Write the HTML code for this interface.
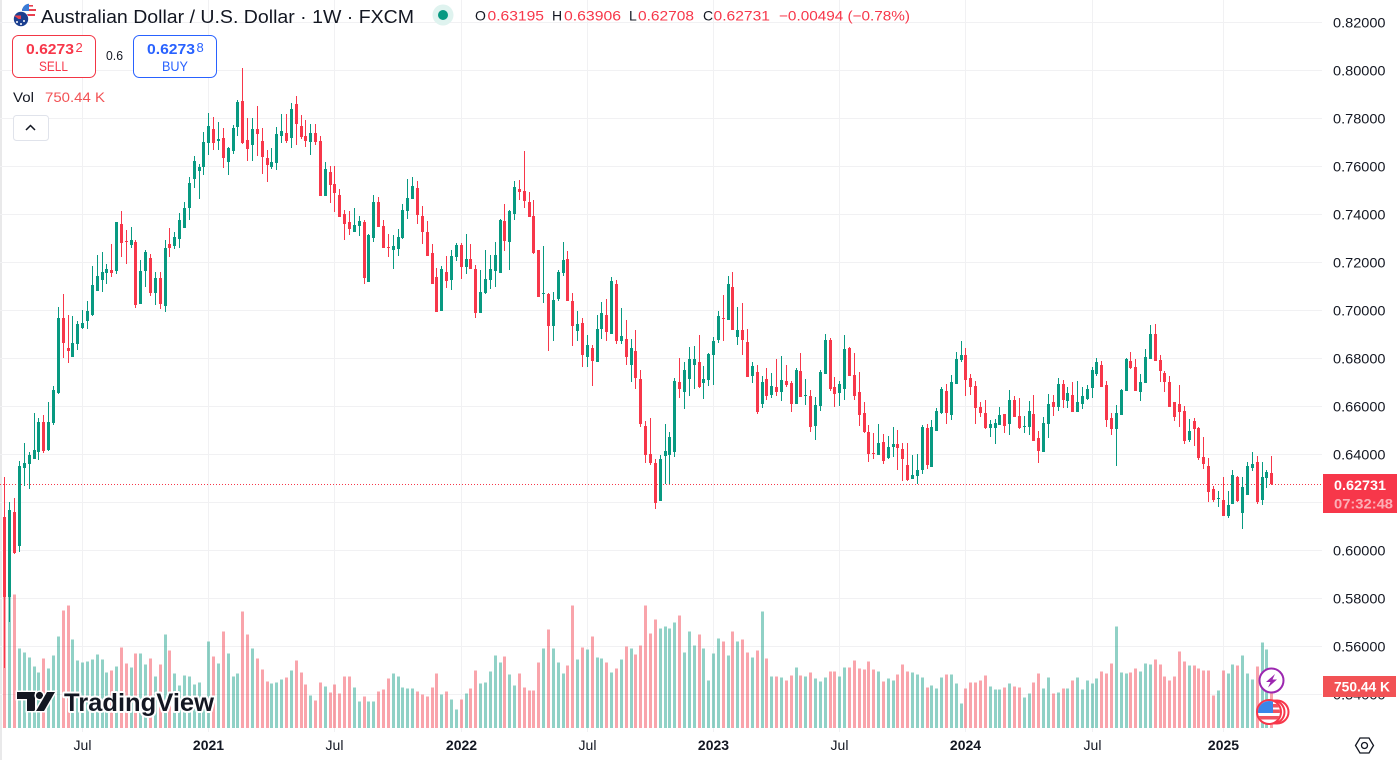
<!DOCTYPE html>
<html lang="en">
<head>
<meta charset="utf-8">
<title>AUD/USD 1W chart</title>
<style>
html,body{margin:0;padding:0;background:#fff;width:1397px;height:760px;overflow:hidden}
svg{display:block;font-family:"Liberation Sans",sans-serif}
text{fill:#131722}
</style>
</head>
<body>
<svg id="chart" xmlns="http://www.w3.org/2000/svg" width="1397" height="760" viewBox="0 0 1397 760">
  <defs>
    <clipPath id="flag-clip"><circle cx="1269" cy="712" r="11"/></clipPath>
  </defs>
  <rect x="0" y="0" width="1397" height="760" fill="#ffffff"/>
  <rect x="0" y="0" width="2" height="760" fill="#e9e9ea"/>
  <g id="grid" shape-rendering="crispEdges"></g>
  <g id="volumes" shape-rendering="crispEdges"></g>
  <line id="price-line" x1="0" x2="1323" stroke="#f7374a" stroke-width="1" stroke-dasharray="1 2" shape-rendering="crispEdges"/>
  <g id="candles" shape-rendering="crispEdges"></g>

  <g>
    <g stroke="#ffffff" stroke-width="3" paint-order="stroke" fill="#131722">
      <path d="M17 692H35V711H27V699H17Z"/>
      <circle cx="39.5" cy="695.5" r="3.6"/>
      <path d="M47 692H55L44 711H36Z"/>
    </g>
    <text x="64" y="711" font-size="25" font-weight="700" textLength="150" style="fill:#131722;stroke:#ffffff;stroke-width:4px;paint-order:stroke;stroke-linejoin:round">TradingView</text>
  </g>

  <rect x="1322" y="0" width="75" height="760" fill="#ffffff"/>
  <g id="price-axis"></g>
  <g id="time-axis"></g>

  <g>
    <rect x="1323" y="474" width="74" height="39" fill="#f7374a"/>
    <text x="1334" y="490" font-size="14" font-weight="700" textLength="52" style="fill:#ffffff">0.62731</text>
    <text x="1334" y="508.500" font-size="14" font-weight="700" textLength="59" style="fill:#ffffff;fill-opacity:.6">07:32:48</text>
  </g>
  <g>
    <rect x="1323" y="676" width="73" height="21" fill="#f25255"/>
    <text x="1334" y="691.5" font-size="14" font-weight="700" textLength="56" style="fill:#ffffff">750.44 K</text>
  </g>

  <g>
    <circle cx="29" cy="11" r="7.3" fill="#ffffff"/>
    <path d="M22 9h14v2H22zM23 14h12v2H23zM25 5h8v1.6h-8z" fill="#e8404f"/>
    <path d="M22 11A7.3 7.3 0 0 1 29 3.700V11Z" fill="#3a7bd5"/>
    <circle cx="21" cy="19" r="7.7" fill="#ffffff"/>
    <circle cx="21" cy="19" r="7.2" fill="#1b3f8f"/>
    <path d="M14.500 15.500H21V19H18.500L14.500 16Z" fill="#e8404f"/>
    <circle cx="24" cy="21" r="1" fill="#ffffff"/><circle cx="21" cy="24" r="1" fill="#ffffff"/><circle cx="17" cy="22" r="1" fill="#ffffff"/>
  </g>
  <text x="41" y="23" font-size="18" textLength="373">Australian Dollar / U.S. Dollar · 1W · FXCM</text>
  <circle cx="443" cy="15" r="10.500" fill="#dff3ef"/>
  <circle cx="443" cy="15" r="5" fill="#089981"/>

  <g font-size="14">
    <text x="475" y="20.500">O</text>
    <text x="487.500" y="20.500" textLength="56.500" style="fill:#f7374a">0.63195</text>
    <text x="552" y="20.500">H</text>
    <text x="564" y="20.500" textLength="57" style="fill:#f7374a">0.63906</text>
    <text x="629" y="20.500">L</text>
    <text x="638" y="20.500" textLength="56" style="fill:#f7374a">0.62708</text>
    <text x="703" y="20.500">C</text>
    <text x="713.500" y="20.500" textLength="56.500" style="fill:#f7374a">0.62731</text>
    <text x="779" y="20.500" textLength="131" style="fill:#f7374a">−0.00494 (−0.78%)</text>
  </g>

  <g>
    <rect x="12.500" y="35.500" width="83" height="42" rx="6" fill="#ffffff" stroke="#f23645"/>
    <text x="26" y="54" font-size="14.500" font-weight="700" textLength="48" style="fill:#f7374a">0.6273</text>
    <text x="75.500" y="52" font-size="13" style="fill:#f7374a">2</text>
    <text x="39" y="71" font-size="13.500" textLength="29" style="fill:#f7374a">SELL</text>
  </g>
  <text x="106" y="60" font-size="12.500" textLength="17">0.6</text>
  <g>
    <rect x="133.500" y="35.500" width="83" height="42" rx="6" fill="#ffffff" stroke="#2962ff"/>
    <text x="147" y="54" font-size="14.500" font-weight="700" textLength="48" style="fill:#2962ff">0.6273</text>
    <text x="196.500" y="52" font-size="13" style="fill:#2962ff">8</text>
    <text x="162" y="71" font-size="13.500" textLength="26" style="fill:#2962ff">BUY</text>
  </g>

  <text x="13" y="102" font-size="14" textLength="21">Vol</text>
  <text x="45" y="102" font-size="14" textLength="60" style="fill:#f25255">750.44 K</text>
  <g>
    <rect x="13.500" y="115.500" width="35" height="25" rx="3" fill="#ffffff" stroke="#e0e3eb"/>
    <path d="M26 130L30.500 125.500L35 130" fill="none" stroke="#131722" stroke-width="1.500"/>
  </g>

  <g>
    <circle cx="1271.500" cy="680.500" r="12" fill="#ffffff" stroke="#9c27b0" stroke-width="2"/>
    <path d="M1275 674L1266 682H1270.500L1268 687.500L1277 679.500H1272.500Z" fill="#9c27b0"/>
  </g>
  <g>
    <circle cx="1277" cy="712" r="11.500" fill="#ffffff" stroke="#f7374a" stroke-width="2"/>
    <circle cx="1273" cy="712" r="11.500" fill="#ffffff" stroke="#f7374a" stroke-width="2"/>
    <circle cx="1269" cy="712" r="12" fill="#ffffff" stroke="#f7374a" stroke-width="2"/>
    <g clip-path="url(#flag-clip)">
      <path d="M1258 704h22v3.500h-22zM1258 709.500h22v3.500h-22zM1258 716h22v3.500h-22z" fill="#f0525f"/>
      <rect x="1258" y="700" width="15" height="13" fill="#3a86e8"/>
    </g>
  </g>

  <g>
    <path d="M1355.500 745.500L1360 738H1369L1373.500 745.500L1369 753H1360Z" fill="none" stroke="#131722" stroke-width="1.300"/>
    <circle cx="1364.500" cy="745.500" r="3" fill="none" stroke="#131722" stroke-width="1.300"/>
  </g>
</svg>
<script>
const opens = [.6138,.5804,.6158,.6017,.6342,.6358,.6379,.6408,.6534,.6417,.6529,.6654,.6967,.6842,.6804,.6858,.6925,.6954,.6979,.7079,.7125,.7154,.7167,.7163,.7358,.7288,.7271,.7283,.7025,.7163,.7217,.7071,.7133,.7017,.7275,.7267,.7296,.7342,.7425,.7546,.7579,.7596,.7696,.7754,.7704,.7717,.7617,.7663,.7763,.7871,.7708,.7688,.7754,.7704,.7633,.7596,.7613,.7725,.7738,.7717,.7858,.7767,.7725,.7700,.7738,.7704,.7475,.7575,.7525,.7479,.7400,.7367,.7325,.7350,.7367,.7117,.7300,.7450,.7350,.7263,.7250,.7254,.7300,.7413,.7463,.7508,.7392,.7325,.7238,.7138,.6996,.7158,.7125,.7221,.7271,.7179,.7213,.7171,.6988,.7071,.7125,.7163,.7154,.7371,.7283,.7400,.7504,.7496,.7450,.7392,.7250,.7067,.7067,.6933,.7046,.7154,.7213,.7038,.6913,.6946,.6804,.6842,.6783,.6921,.6979,.6900,.7108,.6871,.6879,.6771,.6829,.6713,.6517,.6400,.6363,.6204,.6392,.6396,.6408,.6700,.6658,.6713,.6771,.6783,.6696,.6708,.6813,.6875,.6967,.6958,.7096,.6888,.6917,.6867,.6725,.6742,.6608,.6713,.6646,.6679,.6658,.6704,.6696,.6608,.6746,.6642,.6642,.6517,.6600,.6733,.6875,.6679,.6654,.6671,.6842,.6729,.6658,.6571,.6492,.6404,.6396,.6450,.6383,.6429,.6442,.6421,.6354,.6296,.6308,.6333,.6508,.6346,.6496,.6571,.6663,.6563,.6692,.6792,.6813,.6717,.6683,.6596,.6571,.6508,.6508,.6521,.6567,.6525,.6625,.6558,.6513,.6513,.6567,.6467,.6408,.6525,.6617,.6596,.6692,.6621,.6646,.6575,.6608,.6629,.6675,.6733,.6771,.6688,.6550,.6504,.6563,.6663,.6788,.6763,.6658,.6696,.6796,.6900,.6792,.6738,.6700,.6617,.6608,.6579,.6458,.6538,.6508,.6388,.6350,.6254,.6213,.6208,.6142,.6192,.6304,.6154,.6229,.6342,.6367,.6208,.6300,.63195];
const highs = [.6304,.6200,.6217,.6371,.6446,.6408,.6571,.6550,.6562,.6617,.6683,.7012,.7067,.6979,.6975,.6954,.7000,.7037,.7183,.7229,.7242,.7192,.7275,.7367,.7412,.7333,.7346,.7292,.7208,.7250,.7233,.7158,.7158,.7292,.7342,.7325,.7404,.7450,.7554,.7642,.7608,.7742,.7821,.7804,.7783,.7758,.7679,.7771,.7875,.8008,.7800,.7800,.7850,.7758,.7667,.7675,.7763,.7817,.7817,.7863,.7892,.7813,.7792,.7775,.7775,.7725,.7617,.7600,.7600,.7504,.7417,.7413,.7425,.7392,.7375,.7317,.7479,.7471,.7375,.7317,.7313,.7338,.7442,.7546,.7554,.7538,.7433,.7371,.7275,.7175,.7183,.7225,.7250,.7279,.7279,.7317,.7275,.7188,.7167,.7250,.7229,.7283,.7379,.7442,.7417,.7538,.7542,.7663,.7492,.7458,.7250,.7267,.7071,.7075,.7167,.7283,.7246,.7071,.6996,.6967,.6896,.6854,.6979,.7033,.7046,.7138,.7125,.7008,.6958,.6879,.6917,.6750,.6538,.6550,.6379,.6396,.6525,.6492,.6717,.6800,.6783,.6846,.6850,.6896,.6767,.6821,.6888,.6996,.7063,.7142,.7158,.7013,.7029,.6921,.6783,.6771,.6725,.6758,.6738,.6796,.6808,.6771,.6704,.6758,.6821,.6713,.6667,.6638,.6750,.6900,.6883,.6721,.6704,.6896,.6846,.6821,.6742,.6617,.6521,.6488,.6525,.6483,.6475,.6513,.6500,.6446,.6446,.6396,.6400,.6521,.6525,.6542,.6592,.6679,.6692,.6729,.6825,.6871,.6842,.6733,.6704,.6617,.6625,.6542,.6546,.6596,.6567,.6667,.6642,.6633,.6558,.6621,.6646,.6496,.6554,.6650,.6646,.6717,.6708,.6679,.6700,.6704,.6679,.6688,.6763,.6800,.6788,.6704,.6571,.6604,.6671,.6800,.6825,.6796,.6733,.6838,.6938,.6942,.6813,.6746,.6725,.6617,.6688,.6600,.6546,.6550,.6513,.6471,.6383,.6267,.6246,.6304,.6246,.6333,.6308,.6304,.6367,.6408,.6392,.6367,.6333,.63906];
const lows = [.5508,.5700,.5983,.5992,.6267,.6254,.6379,.6375,.6404,.6413,.6521,.6650,.6800,.6779,.6804,.6833,.6921,.6921,.6975,.7079,.7075,.7108,.7138,.7150,.7221,.7192,.7258,.7008,.7025,.7096,.7058,.7021,.7004,.6992,.7221,.7254,.7258,.7342,.7375,.7508,.7463,.7563,.7646,.7667,.7667,.7592,.7563,.7650,.7725,.7692,.7621,.7621,.7642,.7567,.7533,.7588,.7583,.7696,.7696,.7675,.7688,.7713,.7679,.7646,.7688,.7475,.7475,.7446,.7408,.7388,.7292,.7313,.7325,.7308,.7108,.7117,.7283,.7346,.7258,.7221,.7171,.7225,.7296,.7379,.7463,.7358,.7275,.7225,.7108,.6992,.6996,.7092,.7083,.7204,.7129,.7150,.7171,.6967,.6988,.7067,.7088,.7096,.7154,.7246,.7167,.7375,.7458,.7425,.7388,.7233,.7054,.7029,.6829,.6871,.7038,.7142,.7038,.6850,.6871,.6763,.6763,.6683,.6783,.6879,.6871,.6900,.6858,.6858,.6771,.6700,.6671,.6513,.6363,.6354,.6171,.6204,.6275,.6275,.6388,.6633,.6588,.6642,.6671,.6675,.6629,.6683,.6688,.6863,.6871,.6958,.6917,.6854,.6813,.6721,.6696,.6567,.6592,.6625,.6633,.6642,.6621,.6679,.6575,.6608,.6638,.6604,.6492,.6458,.6579,.6733,.6663,.6596,.6600,.6625,.6725,.6625,.6517,.6488,.6367,.6379,.6396,.6358,.6379,.6388,.6333,.6288,.6288,.6296,.6275,.6317,.6338,.6346,.6496,.6567,.6525,.6542,.6692,.6783,.6642,.6646,.6525,.6554,.6504,.6471,.6442,.6521,.6488,.6479,.6554,.6504,.6488,.6479,.6454,.6363,.6408,.6467,.6558,.6579,.6592,.6592,.6575,.6575,.6588,.6625,.6633,.6725,.6679,.6513,.6479,.6350,.6563,.6663,.6754,.6663,.6621,.6696,.6796,.6788,.6700,.6658,.6596,.6538,.6513,.6442,.6450,.6433,.6375,.6338,.6200,.6200,.6179,.6142,.6133,.6192,.6200,.6088,.6229,.6329,.6192,.6188,.6258,.62708];
const closes = [.5804,.6167,.5988,.6350,.6363,.6396,.6417,.6534,.6413,.6534,.6667,.6967,.6863,.6829,.6863,.6942,.6946,.6996,.7104,.7142,.7158,.7171,.7154,.7367,.7279,.7283,.7292,.7021,.7163,.7242,.7071,.7133,.7025,.7258,.7258,.7304,.7375,.7425,.7529,.7621,.7596,.7700,.7767,.7696,.7713,.7633,.7675,.7758,.7867,.7696,.7671,.7754,.7733,.7638,.7604,.7617,.7733,.7746,.7704,.7838,.7775,.7721,.7704,.7738,.7700,.7475,.7588,.7521,.7488,.7388,.7358,.7338,.7354,.7371,.7133,.7313,.7450,.7346,.7258,.7258,.7267,.7304,.7417,.7467,.7517,.7396,.7325,.7225,.7108,.6992,.7171,.7121,.7225,.7271,.7179,.7213,.7171,.6988,.7075,.7129,.7171,.7229,.7375,.7288,.7413,.7513,.7492,.7454,.7388,.7238,.7054,.7071,.6933,.7042,.7158,.7208,.7038,.6933,.6942,.6813,.6854,.6788,.6921,.6988,.6908,.7121,.6871,.6892,.6804,.6842,.6717,.6525,.6396,.6363,.6196,.6379,.6413,.6471,.6704,.6671,.6750,.6796,.6796,.6679,.6713,.6817,.6871,.6975,.6963,.7108,.6917,.6917,.6875,.6721,.6767,.6575,.6700,.6642,.6683,.6658,.6708,.6688,.6608,.6750,.6638,.6646,.6513,.6604,.6742,.6875,.6671,.6650,.6692,.6838,.6725,.6642,.6563,.6492,.6400,.6400,.6446,.6371,.6429,.6442,.6425,.6379,.6292,.6313,.6333,.6513,.6354,.6513,.6579,.6671,.6571,.6700,.6796,.6813,.6708,.6679,.6592,.6571,.6508,.6525,.6529,.6563,.6517,.6625,.6554,.6508,.6517,.6579,.6454,.6413,.6529,.6608,.6596,.6692,.6625,.6654,.6575,.6617,.6642,.6671,.6750,.6783,.6679,.6542,.6504,.6571,.6667,.6796,.6758,.6663,.6700,.6804,.6900,.6788,.6746,.6700,.6596,.6554,.6575,.6454,.6496,.6504,.6383,.6358,.6242,.6208,.6217,.6142,.6188,.6313,.6204,.6263,.6350,.6358,.6200,.6304,.6325,.62731];
const volumes = [2358,2358,2406,1434,1362,1272,1110,1002,1254,1074,1308,1650,2118,2208,1596,1218,1182,1200,1236,1326,1236,1002,1038,1110,1452,1164,1092,1344,1344,1146,1254,930,1146,1686,1398,984,768,948,930,786,822,498,1560,1290,1164,1740,1344,930,984,2100,1686,1434,1254,1056,840,804,822,876,912,1038,1218,1002,786,588,498,822,750,642,786,624,930,930,732,480,570,480,480,660,696,894,984,930,732,714,714,660,606,570,732,984,606,660,516,336,516,624,714,1038,804,822,1020,1308,1182,1290,966,768,984,732,678,678,1182,1434,1776,1434,1182,984,1128,2208,1236,1452,1416,1650,1272,1254,1182,1002,1074,1236,1470,1434,1326,1488,2208,1704,1956,1794,1830,1794,1902,2028,1362,1740,1488,1686,1434,858,1344,1614,1560,1308,1740,1560,1596,1362,1272,1398,2100,1254,930,930,912,858,948,1092,948,930,1002,894,840,912,1020,1020,930,1092,1092,1218,1074,1056,1200,1056,1020,840,894,858,966,1146,1020,1002,966,912,732,768,714,912,966,966,804,444,714,822,822,858,948,750,696,696,732,804,750,732,552,624,822,984,714,912,624,642,714,714,858,912,696,858,804,894,1020,984,1164,1830,1002,984,1002,1074,1020,1164,1146,1236,1146,930,858,930,1380,1200,1128,1128,1074,1038,1038,588,678,1038,984,1146,1128,1308,984,876,1110,1542,1416,750.44];
const priceTicks = [0.82,0.80,0.78,0.76,0.74,0.72,0.70,0.68,0.66,0.64,0.62,0.60,0.58,0.56,0.54];
const timeLabels = ['Jul','2021','Jul','2022','Jul','2023','Jul','2024','Jul','2025'];
const timeLabelBars = [16,42,68,94,120,146,172,198,224,251];
const lastPrice = 0.62731;

const NS = 'http://www.w3.org/2000/svg';
const UP_COLOR = '#089981';
const DOWN_COLOR = '#f7374a';
const UP_VOLUME = 'rgba(8,153,129,.45)';
const DOWN_VOLUME = 'rgba(242,54,69,.45)';
const GRID_COLOR = '#f1f1f3';
const VOLUME_BASE = 728;
const KILO_PER_PIXEL = 18;

function xOf(i) { return Math.round(4.45 + 4.8535 * i); }
function yOf(p) { return 550 - (p - 0.6) * 2400; }
function volHeight(v) { return v / KILO_PER_PIXEL; }
function make(tag, attrs) {
  const el = document.createElementNS(NS, tag);
  for (const k in attrs) el.setAttribute(k, attrs[k]);
  return el;
}

const gridGroup = document.getElementById('grid');
const priceAxis = document.getElementById('price-axis');
const timeAxis = document.getElementById('time-axis');
const volumeGroup = document.getElementById('volumes');
const candleGroup = document.getElementById('candles');

priceTicks.forEach(function (tick) {
  const y = Math.round(yOf(tick));
  const line = make('rect', { x: 0, y: y, width: 1322, height: 1, fill: GRID_COLOR });
  
  
  gridGroup.appendChild(line);
  const label = make('text', { x: 1333, y: y + 5.5, 'font-size': 14, textLength: 52.5 });
  
  
  label.textContent = tick.toFixed(5);
  priceAxis.appendChild(label);
});

timeLabels.forEach(function (name, n) {
  const x = xOf(timeLabelBars[n]);
  const line = make('rect', { x: x, y: 0, width: 1, height: 732, fill: GRID_COLOR });
  
  
  gridGroup.appendChild(line);
  const isYear = /^\d+$/.test(name);
  const label = make('text', { x: x + 0.5, y: 750, 'font-size': 14, 'text-anchor': 'middle', 'font-weight': isYear ? 700 : 400 });
  
  
  label.textContent = name;
  timeAxis.appendChild(label);
});

volumes.forEach(function (v, i) {
  const up = closes[i] >= opens[i];
  const h = volHeight(v);
  const bar = make('rect', { x: xOf(i) - 1, y: VOLUME_BASE - h, width: 3, height: h, fill: up ? UP_VOLUME : DOWN_VOLUME });
  
  
  volumeGroup.appendChild(bar);
});

const lastY = Math.floor(yOf(lastPrice)) + 0.5;
document.getElementById('price-line').setAttribute('y1', lastY);
document.getElementById('price-line').setAttribute('y2', lastY);

opens.forEach(function (open, i) {
  const close = closes[i];
  const up = close >= open;
  const color = up ? UP_COLOR : DOWN_COLOR;
  const x = xOf(i);
  const top = Math.round(yOf(highs[i]));
  const bottom = Math.round(yOf(lows[i]));
  const wick = make('rect', { x: x, y: top, width: 1, height: Math.max(1, bottom - top), fill: color });
  
  
  candleGroup.appendChild(wick);
  const bodyTop = Math.round(yOf(Math.max(open, close)));
  const bodyBottom = Math.round(yOf(Math.min(open, close)));
  const body = make('rect', { x: x - 1, y: bodyTop, width: 3, height: Math.max(1, bodyBottom - bodyTop), fill: color });
  
  
  candleGroup.appendChild(body);
});

document.querySelectorAll('text[textLength]').forEach(function (t) {
  t.setAttribute('lengthAdjust', 'spacingAndGlyphs');
});
</script>
</body>
</html>
